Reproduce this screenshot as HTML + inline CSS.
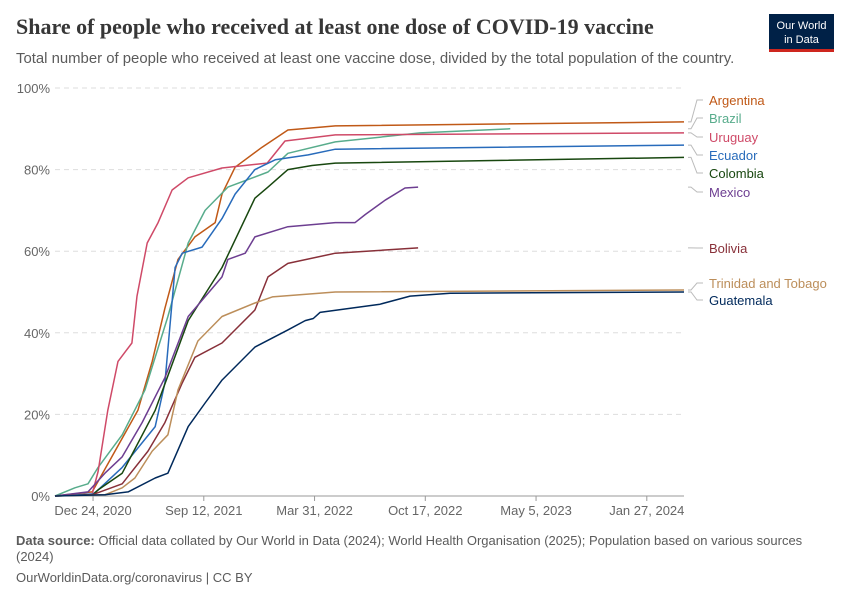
<!DOCTYPE html>
<html><head><meta charset="utf-8">
<style>
body{margin:0;background:#fff;font-family:"Liberation Sans",sans-serif;}
svg text{font-family:"Liberation Sans",sans-serif;}
</style></head>
<body>
<svg width="850" height="600" xmlns="http://www.w3.org/2000/svg" id="chart">
<text x="16" y="34" font-size="22" font-weight="bold" fill="#373737" style="font-family:'Liberation Serif',serif">Share of people who received at least one dose of COVID-19 vaccine</text>
<text x="16" y="63" font-size="14.9" fill="#5b5b5b">Total number of people who received at least one vaccine dose, divided by the total population of the country.</text>
<g>
<rect x="769" y="14" width="65" height="36" fill="#002147"/>
<rect x="769" y="49" width="65" height="3" fill="#ce261e"/>
<text x="801.5" y="29" font-size="11" fill="#fff" text-anchor="middle">Our World</text>
<text x="801.5" y="43" font-size="11" fill="#fff" text-anchor="middle">in Data</text>
</g>
<g id="grid"></g>
<g id="xaxis"></g>
<g id="lines"></g>
<g id="labels"></g>
<text x="16" y="545" font-size="13" fill="#5b5b5b"><tspan font-weight="bold">Data source:</tspan> Official data collated by Our World in Data (2024); World Health Organisation (2025); Population based on various sources</text>
<text x="16" y="561" font-size="13" fill="#5b5b5b">(2024)</text>
<text x="16" y="582" font-size="13" fill="#5b5b5b">OurWorldinData.org/coronavirus | CC BY</text>
</svg>
<script>
// days since Dec 24, 2020
const xTickDays=[0,262,524,786,1048,1310];
const xTickLabels=["Dec 24, 2020","Sep 12, 2021","Mar 31, 2022","Oct 17, 2022","May 5, 2023","Jan 27, 2024"];
const yTicks=[0,20,40,60,80,100];
const names=["Argentina","Brazil","Uruguay","Ecuador","Colombia","Mexico","Bolivia","Trinidad and Tobago","Guatemala"];
const colors=["#c05917","#58ac8c","#cf4a68","#286bbb","#18470f","#6d3e91","#883039","#bc8e5a","#00295b"];
const argentinaDays=[-90,-2,52,106,140,170,201,241,289,305,336,400,461,573,1398];
const argentinaVals=[0,1,11,21,33,46,58,63.5,67,74,80.6,85.5,89.7,90.7,91.7];
const brazilDays=[-90,-43,-12,12,69,123,177,225,265,319,414,461,573,774,987];
const brazilVals=[0,2,3,7,15,26,44,62,70,75.7,79.4,84,86.8,89,90];
const uruguayDays=[-90,-2,12,35,59,92,104,128,154,187,225,305,412,454,573,1398];
const uruguayVals=[0,0.5,6,21,33,37.5,49,62,67,75,78,80.4,81.6,87,88.5,89];
const ecuadorDays=[-90,0,12,69,147,170,194,211,258,305,336,383,431,509,573,1398];
const ecuadorVals=[0,0.5,1.5,7,17,27.7,56,59.5,61,68,74,80,82.4,83.6,85,86];
const colombiaDays=[-90,0,12,69,147,225,305,383,414,461,518,573,1398];
const colombiaVals=[0,0.3,1.5,5.6,21,43,56,73,75.7,80,81,81.6,83];
const mexicoDays=[-90,-12,28,69,116,170,225,305,319,360,383,461,573,620,644,691,738,769];
const mexicoVals=[0,1,5.6,9.6,18,29,44,53.7,58,59.5,63.5,66,67,67,69,72.5,75.5,75.7];
const boliviaDays=[-90,-2,69,130,170,211,241,305,336,383,414,461,573,769];
const boliviaVals=[0,0.3,3,11,18,27.7,34,37.5,40.7,45.6,53.7,57,59.5,60.8];
const trinidadDays=[-90,28,69,99,140,177,201,248,305,383,424,573,1398];
const trinidadVals=[0,0.3,2,4.4,11,15,26,38,44,47.3,48.8,50,50.5];
const guatemalaDays=[-90,28,83,147,177,225,265,305,383,461,502,521,537,679,750,845,1398];
const guatemalaVals=[0,0.3,1,4.4,5.6,17,22.8,28.4,36.5,40.7,43,43.5,45,47,49,49.7,50];
const allDays=[argentinaDays,brazilDays,uruguayDays,ecuadorDays,colombiaDays,mexicoDays,boliviaDays,trinidadDays,guatemalaDays];
const allVals=[argentinaVals,brazilVals,uruguayVals,ecuadorVals,colombiaVals,mexicoVals,boliviaVals,trinidadVals,guatemalaVals];
const labelY=[100,118,137,155,173,192,248,283,300];

const NS="http://www.w3.org/2000/svg";
const X0=55,X1=684,D0=-90,D1=1398,Y0=496,Y1=88;
const xs=d=>X0+(d-D0)/(D1-D0)*(X1-X0);
const ys=v=>Y0-(v/100)*(Y0-Y1);
function mk(tag,attrs,parent){const e=document.createElementNS(NS,tag);for(const k in attrs)e.setAttribute(k,attrs[k]);parent.appendChild(e);return e;}
const grid=document.getElementById('grid');
yTicks.forEach(t=>{
  if(t>0){const l=mk('line',{x1:X0,x2:X1,y1:ys(t),y2:ys(t),stroke:'#ddd','stroke-dasharray':'5,4'},grid);
  
  }
  const tx=mk('text',{x:50,y:ys(t)+5,'font-size':13,fill:'#666','text-anchor':'end'},grid);
  tx.textContent=t+'%';
  
  
});
const xa=document.getElementById('xaxis');
const ax=mk('line',{x1:X0,x2:X1,y1:Y0,y2:Y0,stroke:'#999'},xa);


xTickDays.forEach((d,i)=>{
  const tk=mk('line',{x1:xs(d),x2:xs(d),y1:Y0,y2:Y0+5,stroke:'#999'},xa);
  
  
  const tx=mk('text',{x:xs(d),y:Y0+19,'font-size':13,fill:'#666','text-anchor':'middle'},xa);
  tx.textContent=xTickLabels[i];
  
  
});
const lg=document.getElementById('lines'),lb=document.getElementById('labels');
names.forEach((n,i)=>{
  const dd=allDays[i],vv=allVals[i];
  const pts=dd.map((d,j)=>xs(d).toFixed(1)+','+ys(vv[j]).toFixed(1)).join(' ');
  const p=mk('polyline',{points:pts,fill:'none',stroke:colors[i],'stroke-width':1.5,'stroke-linejoin':'round'},lg);
  
  
  const lastV=vv[vv.length-1];
  const ey=ys(lastV);
  const c=mk('polyline',{points:`688,${ey} 691,${ey} 697,${labelY[i]} 703,${labelY[i]}`,fill:'none',stroke:'#bbb','stroke-width':1},lb);
  
  
  const t=mk('text',{x:709,y:labelY[i]+5,'font-size':13,fill:colors[i]},lb);
  t.textContent=n;
  
  
});
</script>
</body></html>
